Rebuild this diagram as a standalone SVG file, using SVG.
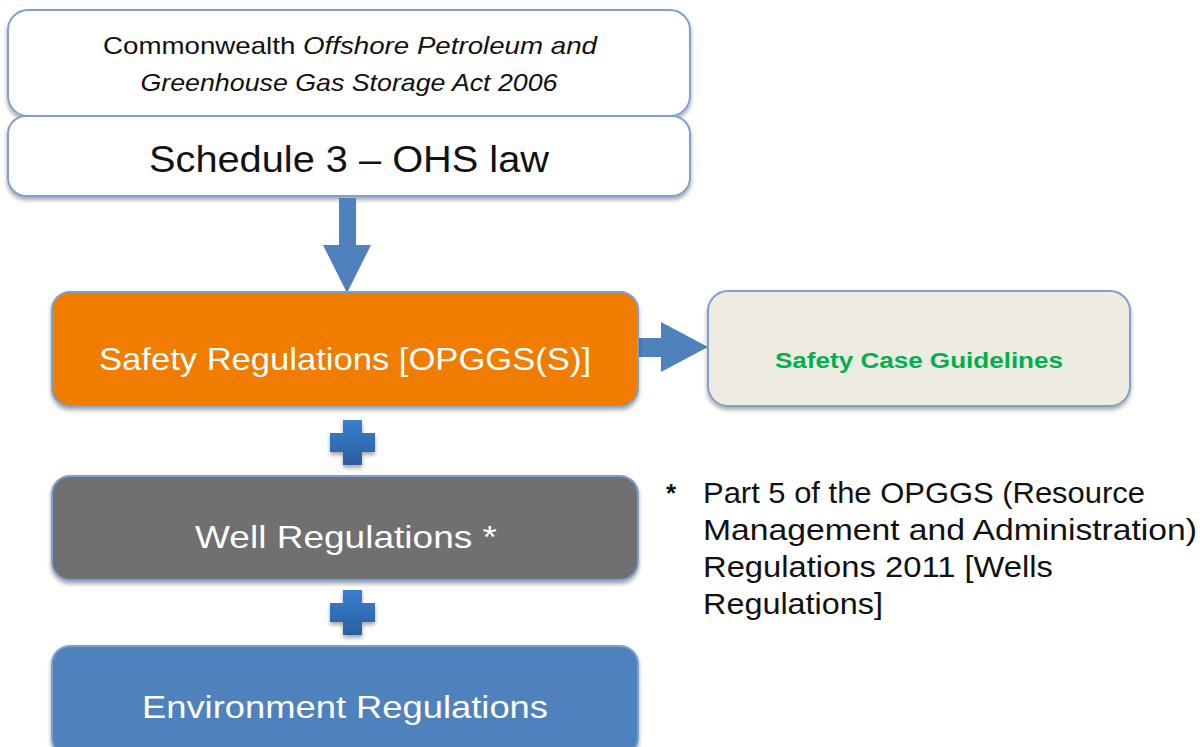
<svg xmlns="http://www.w3.org/2000/svg" width="1203" height="747" viewBox="0 0 1203 747">
<style>
.box{stroke:#7f9fcf;stroke-width:2}
.t{font-family:"Liberation Sans",Arial,sans-serif;text-anchor:middle}
.w{fill:#ffffff}
.k{fill:#111111}
.arr{fill:#4f81bd}
</style>
<defs>
<filter id="sh" x="-5%" y="-10%" width="110%" height="130%">
<feGaussianBlur in="SourceAlpha" stdDeviation="2"/>
<feOffset dx="0" dy="3" result="b"/>
<feComponentTransfer><feFuncA type="linear" slope="0.35"/></feComponentTransfer>
<feMerge><feMergeNode/><feMergeNode in="SourceGraphic"/></feMerge>
</filter>
<linearGradient id="pg" x1="0" y1="0" x2="0" y2="1">
<stop offset="0" stop-color="#3a7fd0"/><stop offset="1" stop-color="#2a5f9e"/>
</linearGradient>
</defs>
<rect width="1203" height="747" fill="#ffffff"/>
<g id="act">
<rect class="box" x="8" y="10" width="682" height="106" rx="20" fill="#ffffff" filter="url(#sh)"/>
<text class="t k" x="350" y="54" font-size="24" textLength="494" lengthAdjust="spacingAndGlyphs"><tspan>Commonwealth </tspan><tspan font-style="italic">Offshore Petroleum and</tspan></text>
<text class="t k" x="349" y="91" font-size="24" font-style="italic" textLength="417" lengthAdjust="spacingAndGlyphs">Greenhouse Gas Storage Act 2006</text>
</g>
<g id="schedule">
<rect class="box" x="8" y="116" width="682" height="80" rx="18" fill="#ffffff" filter="url(#sh)"/>
<text class="t k" x="349" y="172" font-size="36" textLength="400" lengthAdjust="spacingAndGlyphs">Schedule 3 – OHS law</text>
</g>
<g id="connectors">
<path class="arr" d="M339,198 H356 V245 H371 L347,293 L323,245 H339 Z"/>
<path class="arr" d="M639,338 H661 V322 L708,347 L661,372 V357 H639 Z"/>
<g id="plus1" fill="url(#pg)" filter="url(#sh)">
<path d="M343,420 H362 V433 H375 V452 H362 V465 H343 V452 H330 V433 H343 Z"/>
</g>
<g id="plus2" fill="url(#pg)" filter="url(#sh)">
<path d="M343,590 H362 V603 H375 V622 H362 V635 H343 V622 H330 V603 H343 Z"/>
</g>
</g>
<g id="safety">
<rect class="box" x="52" y="292" width="586" height="114" rx="18" fill="#f07c00" filter="url(#sh)"/>
<text class="t w" x="345" y="370" font-size="32" textLength="492" lengthAdjust="spacingAndGlyphs">Safety Regulations [OPGGS(S)]</text>
</g>
<g id="guidelines">
<rect class="box" x="708" y="291" width="422" height="115" rx="20" fill="#eeebe0" filter="url(#sh)"/>
<text class="t" x="919" y="368" font-size="22" font-weight="bold" fill="#00b050" textLength="288" lengthAdjust="spacingAndGlyphs">Safety Case Guidelines</text>
</g>
<g id="well">
<rect class="box" x="52" y="476" width="586" height="104" rx="18" fill="#707070" filter="url(#sh)"/>
<text class="t w" x="346" y="548" font-size="32" textLength="302" lengthAdjust="spacingAndGlyphs">Well Regulations *</text>
</g>
<g id="environment">
<rect class="box" x="52" y="646" width="586" height="110" rx="18" fill="#4f81bd" filter="url(#sh)"/>
<text class="t w" x="345" y="718" font-size="32" textLength="406" lengthAdjust="spacingAndGlyphs">Environment Regulations</text>
</g>
<g id="footnote" font-family="'Liberation Sans',Arial,sans-serif" font-size="29" fill="#111111">
<text x="666" y="502" font-size="26" font-weight="bold">*</text>
<text x="703" y="503" textLength="442" lengthAdjust="spacingAndGlyphs">Part 5 of the OPGGS (Resource</text>
<text x="703" y="540" textLength="494" lengthAdjust="spacingAndGlyphs">Management and Administration)</text>
<text x="703" y="577" textLength="350" lengthAdjust="spacingAndGlyphs">Regulations 2011 [Wells</text>
<text x="703" y="614" textLength="180" lengthAdjust="spacingAndGlyphs">Regulations]</text>
</g>
</svg>
